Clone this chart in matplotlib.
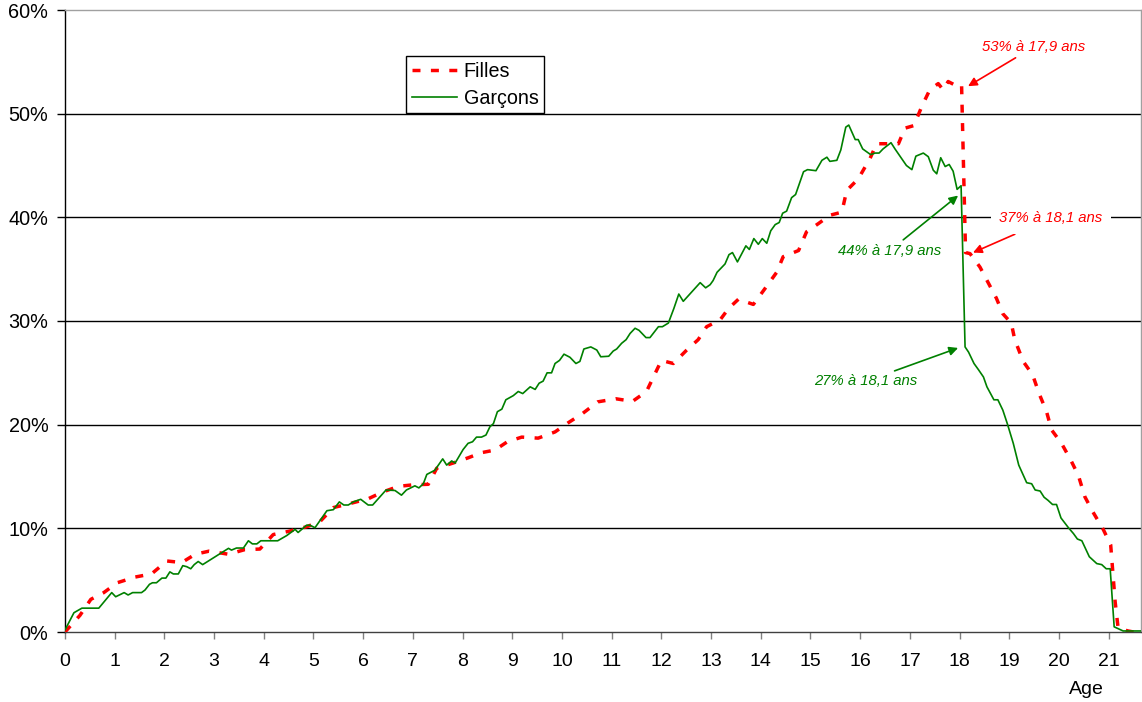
import numpy as np
import matplotlib
matplotlib.use('Agg')
import matplotlib.pyplot as plt

plt.rcParams['font.family'] = ['Liberation Sans', 'DejaVu Sans']

# Garçons (age in years, share in %)
age_g = [0.00, 0.18, 0.34, 0.68, 0.94, 1.02, 1.19, 1.27, 1.36, 1.54, 1.61, 1.70, 1.76, 1.84,
         1.95, 2.03, 2.11, 2.18, 2.28, 2.37, 2.45, 2.53, 2.60, 2.68, 2.77, 3.29, 3.35, 3.45,
         3.59, 3.69, 3.77, 3.86, 3.94, 4.28, 4.46, 4.63, 4.69, 4.86, 4.93, 5.03, 5.27, 5.40,
         5.52, 5.61, 5.70, 5.80, 5.95, 6.10, 6.19, 6.34, 6.46, 6.64, 6.77, 6.87, 7.04, 7.12,
         7.21, 7.28, 7.44, 7.60, 7.68, 7.78, 7.85, 8.01, 8.11, 8.20, 8.28, 8.38, 8.47, 8.55,
         8.62, 8.70, 8.79, 8.87, 9.02, 9.12, 9.21, 9.36, 9.46, 9.54, 9.62, 9.70, 9.79, 9.86,
         9.95, 10.04, 10.16, 10.28, 10.36, 10.44, 10.58, 10.70, 10.78, 10.94, 11.03, 11.10,
         11.20, 11.29, 11.37, 11.47, 11.55, 11.69, 11.77, 11.94, 12.02, 12.14, 12.25, 12.35,
         12.44, 12.78, 12.89, 12.98, 13.04, 13.12, 13.28, 13.36, 13.43, 13.53, 13.63, 13.70,
         13.77, 13.86, 13.95, 14.03, 14.12, 14.20, 14.29, 14.37, 14.44, 14.52, 14.62, 14.70,
         14.86, 14.94, 15.11, 15.23, 15.33, 15.39, 15.53, 15.61, 15.71, 15.77, 15.90, 15.96,
         16.05, 16.21, 16.30, 16.38, 16.46, 16.62, 16.70, 16.93, 17.04, 17.12, 17.27, 17.37,
         17.47, 17.54, 17.62, 17.71, 17.79, 17.87, 17.95, 18.03, 18.11, 18.18, 18.29, 18.38,
         18.48, 18.55, 18.69, 18.77, 18.87, 18.96, 19.08, 19.19, 19.35, 19.45, 19.52, 19.62,
         19.70, 19.78, 19.87, 19.95, 20.04, 20.19, 20.29, 20.37, 20.46, 20.61, 20.76, 20.86,
         20.95, 21.03, 21.11, 21.29, 21.67]
val_g = [0.2, 1.86, 2.3, 2.3, 3.8, 3.4, 3.8, 3.57, 3.8, 3.8, 4.05, 4.6, 4.75, 4.75,
         5.2, 5.2, 5.8, 5.6, 5.6, 6.4, 6.3, 6.1, 6.5, 6.8, 6.5, 8.07, 7.9, 8.1,
         8.1, 8.8, 8.5, 8.5, 8.8, 8.8, 9.3, 9.9, 9.6, 10.3, 10.3, 10.06, 11.7, 11.8,
         12.55, 12.25, 12.25, 12.55, 12.8, 12.25, 12.25, 13.05, 13.7, 13.65, 13.2, 13.7, 14.1, 13.9,
         14.3, 15.2, 15.6, 16.7, 16.1, 16.5, 16.3, 17.6, 18.2, 18.35, 18.8, 18.8, 19.0, 19.8,
         20.1, 21.25, 21.5, 22.4, 22.8, 23.2, 23.0, 23.65, 23.4, 24.0, 24.2, 25.0, 25.0, 25.9,
         26.2, 26.8, 26.5, 25.9, 26.1, 27.3, 27.5, 27.2, 26.55, 26.6, 27.1, 27.3,
         27.85, 28.2, 28.8, 29.3, 29.1, 28.4, 28.4, 29.45, 29.45, 29.8, 31.2, 32.6,
         31.9, 33.7, 33.2, 33.5, 33.9, 34.7, 35.5, 36.4, 36.6, 35.7, 36.6, 37.25,
         36.9, 37.95, 37.4, 37.95, 37.5, 38.7, 39.3, 39.5, 40.4, 40.6, 41.9, 42.2,
         44.4, 44.6, 44.5, 45.5, 45.8, 45.4, 45.5, 46.5, 48.7, 48.9, 47.5, 47.5,
         46.6, 46.05, 46.2, 46.2, 46.6, 47.2, 46.6, 45.0, 44.6, 45.9, 46.2, 45.85,
         44.55, 44.2, 45.75, 44.9, 45.1, 44.45, 42.7, 43.05, 27.5, 27.0, 25.9, 25.3,
         24.6, 23.65, 22.4, 22.4, 21.4, 20.1, 18.2, 16.1, 14.4, 14.3, 13.7, 13.6,
         13.0, 12.7, 12.3, 12.3, 11.0, 10.06, 9.5, 8.97, 8.8, 7.26, 6.6, 6.5,
         6.1, 6.1, 0.5, 0.1, 0.1]

# Filles
age_f = [0.00, 0.30, 0.52, 0.78, 1.05, 1.41, 1.74, 2.05, 2.35, 2.62, 2.90, 3.29, 3.62, 3.92,
         4.19, 4.49, 4.86, 5.13, 5.40, 5.74, 6.10, 6.39, 6.71, 7.01, 7.31, 7.48, 7.81, 8.11,
         8.38, 8.65, 8.90, 9.19, 9.52, 9.86, 10.13, 10.42, 10.72, 11.08, 11.42, 11.70, 11.84,
         12.00, 12.24, 12.51, 12.74, 12.91, 13.18, 13.35, 13.55, 13.85, 14.08, 14.32, 14.45,
         14.76, 14.92, 15.16, 15.39, 15.63, 15.73, 15.96, 16.20, 16.33, 16.56, 16.77, 16.90,
         17.08, 17.24, 17.40, 17.57, 17.67, 17.77, 17.97, 18.04, 18.12, 18.21, 18.41, 18.74,
         18.87, 19.04, 19.11, 19.28, 19.47, 19.60, 19.75, 19.85, 20.05, 20.23, 20.39, 20.52,
         20.68, 20.89, 21.04, 21.13, 21.19, 21.39, 21.50]
val_f = [0.0, 1.6, 3.15, 3.8, 4.75, 5.3, 5.6, 6.85, 6.7, 7.5, 7.8, 7.5, 7.95, 8.0,
         9.4, 9.7, 10.15, 10.65, 12.0, 12.4, 12.85, 13.5, 14.05, 14.2, 14.25, 15.8, 16.3, 16.8,
         17.3, 17.55, 18.35, 18.8, 18.7, 19.3, 20.2, 21.1, 22.2, 22.5, 22.25, 23.2, 24.6,
         26.2, 25.9, 27.2, 28.2, 29.45, 30.1, 31.2, 32.1, 31.6, 33.1, 34.7, 36.2,
         36.8, 38.6, 39.4, 40.2, 40.5, 42.6, 43.7, 45.7, 47.1, 47.1, 47.1, 48.6,
         48.85, 50.7, 52.3, 52.9, 52.3, 53.1, 52.6, 52.75, 36.6, 36.5, 35.2, 32.2,
         30.7, 29.8, 28.2, 26.1, 24.8, 23.0, 21.25, 19.5, 18.2, 16.65, 15.1, 13.05,
         11.6, 9.9, 8.4, 2.9, 0.36, 0.1, 0.0]

x_ticks = list(range(0, 22))
y_ticks = [0, 10, 20, 30, 40, 50, 60]

fig = plt.figure(figsize=(11.42, 7.02), dpi=100)
ax = fig.add_axes([65 / 1142, 1 - 632 / 702, 1076 / 1142, 622 / 702])

for yv in y_ticks[1:-1]:
    ax.axhline(yv, color='black', lw=1.0, zorder=1)

ax.plot(age_f, val_f, color='#ff0000', lw=2.5, dashes=(2.3, 3.0), label='Filles', zorder=3)
ax.plot(age_g, val_g, color='#008000', lw=1.2, label='Garçons', zorder=4)

ax.set_xlim(0, 21.65)
ax.set_ylim(0, 60)
ax.set_xticks(x_ticks)
ax.set_yticks(y_ticks)
ax.set_yticklabels(['%d%%' % v for v in y_ticks])
ax.tick_params(axis='x', direction='out', length=5, width=1, color='#808080',
               labelsize=14, pad=10)
ax.tick_params(axis='y', direction='out', length=6, width=1, color='black',
               labelsize=14.3, pad=6)

ax.spines['left'].set_color('black')
ax.spines['bottom'].set_color('#404040')
ax.spines['top'].set_color('#a0a0a0')
ax.spines['right'].set_color('#a0a0a0')
for s in ax.spines.values():
    s.set_linewidth(1.0)

fig.text(1086 / 1142, 1 - 690 / 702, 'Age', ha='center', va='center', fontsize=14)

leg = ax.legend(loc='upper left', bbox_to_anchor=(406 / 1142, 1 - 56 / 702),
                bbox_transform=fig.transFigure, fontsize=14.2, frameon=True,
                fancybox=False, edgecolor='black', framealpha=1, borderaxespad=0,
                handlelength=2.3, handletextpad=0.35, labelspacing=0.42,
                borderpad=0.28)
leg.get_frame().set_linewidth(1.0)
leg.set_zorder(6)

arrow_kw = dict(arrowstyle='-|>', mutation_scale=13, lw=1.2, shrinkA=1, shrinkB=0)

ax.annotate('53% à 17,9 ans', xy=(18.17, 52.65), xytext=(19.48, 56.4),
            ha='center', va='center', fontsize=10.7, style='italic', color='#ff0000',
            arrowprops=dict(color='#ff0000', **arrow_kw), zorder=7)
ax.annotate('37% à 18,1 ans', xy=(18.27, 36.6), xytext=(19.84, 39.9),
            ha='center', va='center', fontsize=10.7, style='italic', color='#ff0000',
            bbox=dict(facecolor='white', edgecolor='none', pad=6),
            arrowprops=dict(color='#ff0000', **arrow_kw), zorder=7)
ax.annotate('44% à 17,9 ans', xy=(17.97, 42.1), xytext=(16.6, 36.8),
            ha='center', va='center', fontsize=10.7, style='italic', color='#008000',
            arrowprops=dict(color='#008000', **arrow_kw), zorder=7)
ax.annotate('27% à 18,1 ans', xy=(17.97, 27.4), xytext=(16.12, 24.2),
            ha='center', va='center', fontsize=10.7, style='italic', color='#008000',
            arrowprops=dict(color='#008000', **arrow_kw), zorder=7)

fig.savefig('out.png', dpi=100)
